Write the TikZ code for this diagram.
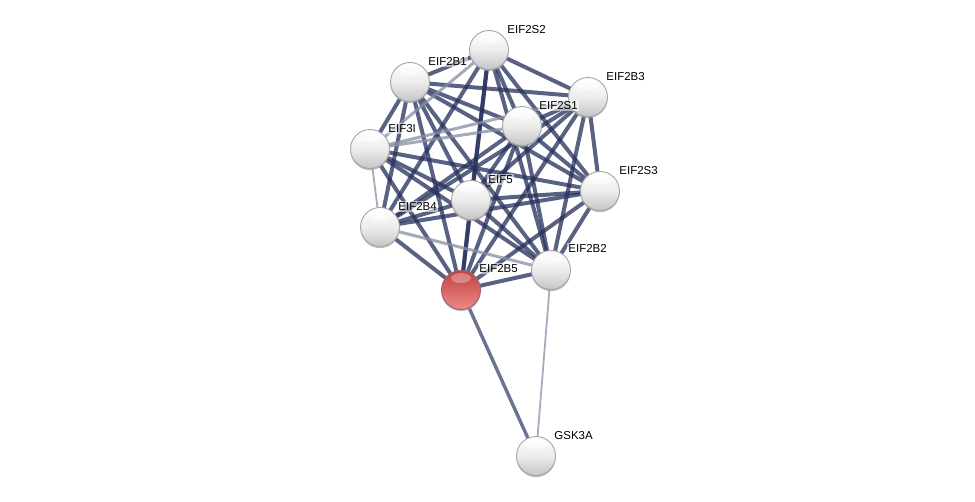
\documentclass[tikz,border=0pt]{standalone}
\usepackage{fontspec}
\setmainfont{Liberation Sans}
\usetikzlibrary{shadows}
\begin{document}
\begin{tikzpicture}[x=1pt,y=-1pt,
  prot/.style={circle,minimum size=39pt,inner sep=0pt,draw=gray!70,line width=0.9pt,
    shading=axis,top color=white,bottom color=gray!45,middle color=gray!15,
    drop shadow={shadow xshift=0pt,shadow yshift=-1.6pt,fill=gray!75,opacity=0.7},
    path picture={\fill[white,opacity=0.5] ([yshift=12pt]path picture bounding box.center) ellipse (11pt and 5.5pt);}},
  protred/.style={prot,draw=red!35!black!60,top color={rgb,255:red,190;green,66;blue,66},middle color={rgb,255:red,214;green,94;blue,94},bottom color={rgb,255:red,240;green,136;blue,136},
    path picture={\fill[white,opacity=0.3] ([yshift=12pt]path picture bounding box.center) ellipse (10pt and 5pt);}},
  lbl/.style={font=\fontsize{11.5}{13}\selectfont,anchor=south west,inner sep=1.2pt,fill=white,fill opacity=0.55,text opacity=1},
  ed/.style={draw=navyc,line width=4pt,opacity=0.76},
  edl/.style={draw=navyc!55,line width=3pt,opacity=0.75},
  edt/.style={draw=navyc!45,line width=1.8pt,opacity=0.9}]
\definecolor{navyc}{HTML}{26315C}
\useasboundingbox (0,0) rectangle (975,501);
\fill[white] (0,0) rectangle (975,501);
% coordinates
\coordinate (S2) at (489,50);
\coordinate (B1) at (410,82);
\coordinate (B3) at (588,97);
\coordinate (S1) at (522,126);
\coordinate (I3) at (370,149);
\coordinate (S3) at (600,191);
\coordinate (E5) at (471,200);
\coordinate (B4) at (380,227);
\coordinate (B2) at (551,270);
\coordinate (B5) at (461,290);
\coordinate (GK) at (536,456);
% edges
\foreach \a/\b in {S2/B1,S2/B3,S2/S1,S2/S3,S2/E5,S2/B4,S2/B2,S2/B5,
  B1/B3,B1/S1,B1/I3,B1/S3,B1/E5,B1/B4,B1/B2,B1/B5,
  B3/S1,B3/S3,B3/E5,B3/B4,B3/B2,B3/B5,
  S1/S3,S1/E5,S1/B4,S1/B2,S1/B5,
  S3/E5,S3/B4,S3/B2,S3/B5,
  E5/B4,E5/B2,E5/B5,
  B4/B5,B2/B5,
  I3/E5,I3/B5,I3/B2,I3/S3}
  \path[ed] (\a) -- (\b);
\foreach \a/\b in {I3/S1,I3/B3,I3/S2,B4/B2}
  \path[edl] (\a) -- (\b);
\path[edt] (I3) -- (B4);
\path[edt] (B2) -- (GK);
\path[draw=navyc,line width=3.4pt,opacity=0.68] (B5) -- (GK);
% nodes
\node[prot] (nS2) at (S2) {};
\node[prot] (nB1) at (B1) {};
\node[prot] (nB3) at (B3) {};
\node[prot] (nS1) at (S1) {};
\node[prot] (nI3) at (I3) {};
\node[prot] (nS3) at (S3) {};
\node[prot] (nE5) at (E5) {};
\node[prot] (nB4) at (B4) {};
\node[prot] (nB2) at (B2) {};
\node[protred] (nB5) at (B5) {};
\node[prot] (nGK) at (GK) {};
% labels
\node[lbl] (lS2) at (506,35) {EIF2S2};
\node[lbl] (lB1) at (427,67) {EIF2B1};
\node[lbl] (lB3) at (605,82) {EIF2B3};
\node[lbl] (lS1) at (538,111) {EIF2S1};
\node[lbl] (lI3) at (387,134) {EIF3I};
\node[lbl] (lS3) at (618,176) {EIF2S3};
\node[lbl] (lE5) at (487,185) {EIF5};
\node[lbl] (lB4) at (397,212) {EIF2B4};
\node[lbl] (lB2) at (567,254) {EIF2B2};
\node[lbl] (lB5) at (478,274) {EIF2B5};
\node[lbl] (lGK) at (553,441) {GSK3A};
\end{tikzpicture}
\end{document}
